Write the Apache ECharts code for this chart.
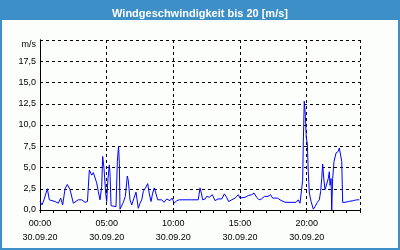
<!DOCTYPE html>
<html><head><meta charset="utf-8">
<script src="https://cdn.jsdelivr.net/npm/echarts@6/dist/echarts.min.js"></script>
<style>
html,body{margin:0;padding:0;}
#wrap{position:relative;width:400px;height:250px;background:#3d8fc8;}
#panel{position:absolute;left:2px;top:20px;width:396px;height:228px;background:#fbfefb;}
#main{position:absolute;left:0;top:0;width:400px;height:250px;}
</style></head>
<body>
<div id="wrap"><div id="panel"></div><div id="main"></div></div>
<script>
const titleText = 'Windgeschwindigkeit bis 20 [m/s]';
const unitLabel = 'm/s';
const dateLabel = '30.09.20';
const xTickHours = [0, 5, 10, 15, 20];
const yTicks = [0, 2.5, 5, 7.5, 10, 12.5, 15, 17.5];
const hours = [0.00,0.15,0.30,0.55,0.70,0.90,1.13,1.37,1.55,1.70,1.88,2.05,2.25,2.50,2.63,2.87,3.13,3.38,3.56,3.70,3.88,4.00,4.25,4.37,4.50,4.63,4.70,4.80,4.93,5.00,5.10,5.20,5.25,5.33,5.48,5.70,5.80,5.89,5.95,6.00,6.13,6.25,6.40,6.55,6.62,6.75,6.88,7.05,7.20,7.37,7.50,7.63,7.75,7.95,8.08,8.20,8.33,8.45,8.57,8.70,8.83,8.95,9.13,9.30,9.50,9.65,9.75,9.90,10.07,10.25,10.45,10.73,11.10,11.38,11.50,11.70,11.87,12.00,12.10,12.20,12.38,12.50,12.70,12.92,13.13,13.35,13.63,13.83,13.99,14.15,14.38,14.63,14.87,15.00,15.13,15.38,15.62,15.88,16.05,16.25,16.43,16.61,16.84,17.10,17.29,17.45,17.81,18.00,18.23,18.45,18.83,19.20,19.37,19.50,19.63,19.70,19.75,19.82,19.90,19.97,20.05,20.12,20.20,20.33,20.50,20.63,20.80,20.95,21.05,21.13,21.20,21.30,21.38,21.50,21.62,21.70,21.75,21.83,21.88,21.95,22.05,22.20,22.37,22.45,22.55,22.63,22.70,22.88,23.12,23.50,23.75,23.95];
const speeds = [1.0,0.6,1.2,2.5,1.2,1.1,1.0,0.8,1.4,0.6,2.5,3.0,2.4,0.8,1.0,1.2,1.2,0.9,1.0,4.7,4.1,4.4,3.2,2.2,1.2,2.8,6.3,4.9,1.9,1.0,3.7,5.3,4.3,0.5,0.4,0.4,5.7,7.5,5.5,0.1,0.2,0.9,1.6,4.0,3.5,1.2,0.6,1.4,2.1,0.2,0.8,1.2,2.2,2.7,3.1,1.9,1.0,2.0,2.6,2.5,1.2,1.0,1.2,0.9,1.3,1.3,1.1,1.4,0.8,1.1,1.2,1.2,1.2,1.2,1.4,1.2,1.2,2.6,2.0,1.2,1.3,1.6,1.5,1.8,1.1,1.3,1.3,1.9,1.5,1.0,1.2,1.4,1.8,1.4,1.5,1.5,1.7,1.8,2.0,1.5,1.2,1.3,1.6,1.6,1.8,1.4,1.4,1.2,1.0,0.9,0.9,0.9,1.2,0.8,0.8,3.5,8.1,12.8,11.2,8.5,7.8,4.5,2.0,1.0,0.1,0.4,0.9,1.2,2.2,3.7,5.4,3.4,2.4,2.2,3.7,4.5,2.9,3.7,0.0,3.7,5.7,6.7,6.9,7.3,7.5,5.7,0.9,0.9,1.0,1.1,1.2,1.2];

const FONT = 'Liberation Sans';
const chart = echarts.init(document.getElementById('main'), null, {renderer: 'canvas'});
const pad = n => (n < 10 ? '0' : '') + n;
chart.setOption({
  backgroundColor: 'transparent',
  animation: false,
  title: {
    text: titleText, left: 'center', top: 3,
    textStyle: {color: '#ffffff', fontSize: 11, fontWeight: 'bold', fontFamily: FONT}
  },
  grid: {left: 40, right: 40, top: 40, bottom: 40, containLabel: false},
  xAxis: [{
    type: 'value', min: 0, max: 24, interval: 1, position: 'bottom',
    axisLine: {show: true, lineStyle: {color: '#000', width: 1}},
    axisTick: {show: true, length: 3, lineStyle: {color: '#000'}},
    splitLine: {show: false},
    axisLabel: {
      margin: 7, color: '#000', fontSize: 9, fontFamily: FONT, lineHeight: 14,
      formatter: v => xTickHours.indexOf(v) >= 0 ? pad(v) + ':00\n' + dateLabel : ''
    }
  }, {
    type: 'value', min: 0, max: 24, interval: 5, position: 'top',
    axisLine: {show: true, lineStyle: {color: '#000', width: 1}},
    axisTick: {show: false}, axisLabel: {show: false},
    splitLine: {show: true, lineStyle: {color: '#000', width: 1, type: [3, 3]}}
  }],
  yAxis: [{
    type: 'value', min: 0, max: 20, interval: 2.5, position: 'left',
    axisLine: {show: true, lineStyle: {color: '#000', width: 1}},
    axisTick: {show: false},
    splitLine: {show: true, lineStyle: {color: '#000', width: 1, type: [3, 3]}},
    axisLabel: {
      margin: 4, color: '#000', fontSize: 9, fontFamily: FONT,
      formatter: v => yTicks.indexOf(v) >= 0 ? v.toFixed(1).replace('.', ',') : ''
    }
  }, {
    type: 'value', min: 0, max: 20, interval: 2.5, position: 'right',
    axisLine: {show: true, lineStyle: {color: '#000', width: 1}},
    axisTick: {show: false}, axisLabel: {show: false}, splitLine: {show: false}
  }],
  graphic: [{
    type: 'text', right: 364, top: 40,
    style: {text: unitLabel, fill: '#000', font: '9px "' + FONT + '"', textAlign: 'right'}
  }],
  series: [{
    type: 'line', xAxisIndex: 0, yAxisIndex: 0,
    data: hours.map((h, i) => [h, speeds[i]]),
    showSymbol: false, symbol: 'none',
    lineStyle: {color: '#0000ff', width: 1},
    silent: true
  }]
});
</script>
</body></html>
